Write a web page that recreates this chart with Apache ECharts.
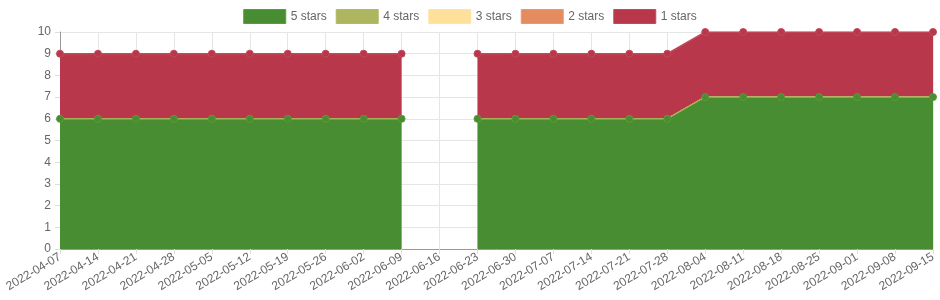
<!DOCTYPE html>
<html>
<head>
<meta charset="utf-8">
<script src="https://cdn.jsdelivr.net/npm/echarts@6/dist/echarts.min.js"></script>
<style>html,body{margin:0;padding:0;background:#fff}#c{width:940px;height:300px}</style>
</head>
<body>
<div id="c"></div>
<script>
var categories = ["2022-04-07","2022-04-14","2022-04-21","2022-04-28","2022-05-05","2022-05-12","2022-05-19","2022-05-26","2022-06-02","2022-06-09","2022-06-16","2022-06-23","2022-06-30","2022-07-07","2022-07-14","2022-07-21","2022-07-28","2022-08-04","2022-08-11","2022-08-18","2022-08-25","2022-09-01","2022-09-08","2022-09-15"];
var stars5 = [6,6,6,6,6,6,6,6,6,6,null,6,6,6,6,6,6,7,7,7,7,7,7,7];
var stars4 = [0,0,0,0,0,0,0,0,0,0,null,0,0,0,0,0,0,0,0,0,0,0,0,0];
var stars3 = [0,0,0,0,0,0,0,0,0,0,null,0,0,0,0,0,0,0,0,0,0,0,0,0];
var stars2 = [0,0,0,0,0,0,0,0,0,0,null,0,0,0,0,0,0,0,0,0,0,0,0,0];
var stars1 = [3,3,3,3,3,3,3,3,3,3,null,3,3,3,3,3,3,3,3,3,3,3,3,3];
var seriesNames = ["5 stars","4 stars","3 stars","2 stars","1 stars"];
var fills = ["#488d31","#adb65e","#fee09b","#e48c60","#b8374a"];
var lines = ["#a3b25a","#b5b868","#fde4a8","#e69a72","#c04a5b"];
var pointBorders = ["#5c9a3a","#b5b868","#fde4a8","#e69a72","#c04a5b"];
var dataSets = [stars5, stars4, stars3, stars2, stars1];

var chart = echarts.init(document.getElementById('c'), null, {renderer:'canvas'});
var font = 'Liberation Sans, Arial, sans-serif';
var zs = [7, 6, 5, 4, 3];
var series = dataSets.map(function(d, i){
  return {
    name: seriesNames[i],
    type: 'line',
    stack: 'total',
    data: d,
    connectNulls: false,
    symbol: 'circle',
    symbolSize: 7,
    showSymbol: i === 0 || i === 4,
    z: zs[i],
    lineStyle: {color: lines[i], width: i === 4 ? 1.5 : 1.2},
    itemStyle: {color: fills[i], borderColor: pointBorders[i], borderWidth: 1},
    areaStyle: {color: fills[i], opacity: 1},
    emphasis: {disabled: true}
  };
});
chart.setOption({
  animation: false,
  color: fills,
  legend: {
    top: 4, left: 'center',
    itemWidth: 42, itemHeight: 14, itemGap: 9,
    icon: 'rect',
    textStyle: {color: '#666', fontSize: 12, fontFamily: font},
    data: seriesNames.map(function(n, i){ return {name: n, itemStyle: {color: fills[i], borderColor: pointBorders[i], borderWidth: 1}}; })
  },
  grid: {left: 60, right: 7, top: 32, bottom: 51, containLabel: false},
  xAxis: {
    type: 'category', data: categories, boundaryGap: false,
    axisLine: {show: true, lineStyle: {color: '#999', width: 1}},
    axisTick: {show: true, length: 5, alignWithLabel: true, lineStyle: {color: '#ddd'}},
    splitLine: {show: true, lineStyle: {color: '#e5e5e5'}},
    axisLabel: {rotate: 31, color: '#666', fontSize: 12, fontFamily: font, margin: 7, interval: 0}
  },
  yAxis: {
    type: 'value', min: 0, max: 10, interval: 1,
    axisLine: {show: true, lineStyle: {color: '#999', width: 1}},
    axisTick: {show: true, length: 5, lineStyle: {color: '#ddd'}},
    splitLine: {show: true, lineStyle: {color: '#e5e5e5'}},
    axisLabel: {color: '#666', fontSize: 12, fontFamily: font, margin: 9}
  },
  series: series
});
</script>
</body>
</html>
